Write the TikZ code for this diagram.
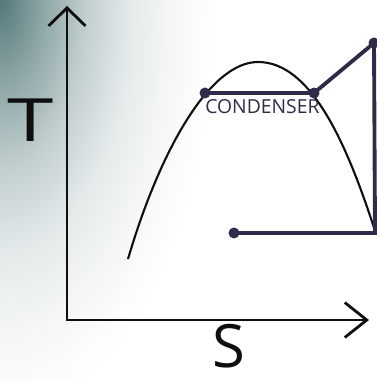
\documentclass[tikz,border=0pt]{standalone}
\usepackage{fontspec}
\setmainfont{Open Sans}
\usepackage{tikz}
\usetikzlibrary{arrows.meta,positioning}
\definecolor{inkblack}{RGB}{15,15,15}
\definecolor{inknavy}{RGB}{46,44,72}
\definecolor{shadeteal}{RGB}{84,120,122}
\pgfdeclareradialshading{cornerfade}{\pgfpoint{0bp}{0bp}}{color(0bp)=(shadeteal); color(5bp)=(shadeteal!66!white); color(10bp)=(shadeteal!36!white); color(15bp)=(shadeteal!16!white); color(20bp)=(shadeteal!6!white); color(25bp)=(white); color(50bp)=(white)}

\begin{document}
\begin{tikzpicture}[x=0.02cm, y=-0.02cm,
  axis/.style={draw=inkblack, line width=1.6pt, {Straight Barb[length=3.6mm, width=7.4mm]}-{Straight Barb[length=4.4mm, width=7mm]}},
  dome/.style={draw=inkblack, line width=1.2pt},
  process/.style={draw=inknavy, line width=2.2pt},
  state/.style={circle, fill=inknavy, inner sep=0pt, minimum size=0.22cm},
  axislabel/.style={font=\fontsize{34}{34}\selectfont, text=inkblack, inner sep=0pt},
  tag/.style={font=\fontsize{11}{11}\selectfont, text=inknavy, inner sep=0pt}
]

% Background
\useasboundingbox (0,0) rectangle (376,381);
\begin{scope}
  \clip (0,0) rectangle (376,381);
  \shade[shading=cornerfade] (0,0) ellipse (215 and 420);
\end{scope}

% Axes
\coordinate (origin) at (67,320);
\coordinate (tmax) at (67,6);
\coordinate (smax) at (369,320);
\draw[axis] (tmax) -- (origin) -- (smax);
\node[axislabel, xscale=1.4] (tlabel) at (31,120) {T};
\node[axislabel] (slabel) at (229,346) {S};

% Saturation dome
\coordinate (domeleft) at (128,259);
\coordinate (domepeak) at (258,62);
\coordinate (domeright) at (376,234);
\draw[dome] (domeleft) .. controls (160,150) and (210,62) .. (domepeak)
  .. controls (310,62) and (346,140) .. (domeright);

% Cycle states
\node[state] (liq) at (205,93) {};
\node[state] (vap) at (314,93) {};
\node[state] (sup) at (374,43) {};
\node[state] (pump) at (234,233) {};
\coordinate (turb) at (375,233);

% Cycle lines
\draw[process] (liq.center) -- (vap.center) -- (sup.center) -- (turb) -- (pump.center);
\node[tag, anchor=north west] (condlabel) at (205,99) {CONDENSER};

\end{tikzpicture}
\end{document}
